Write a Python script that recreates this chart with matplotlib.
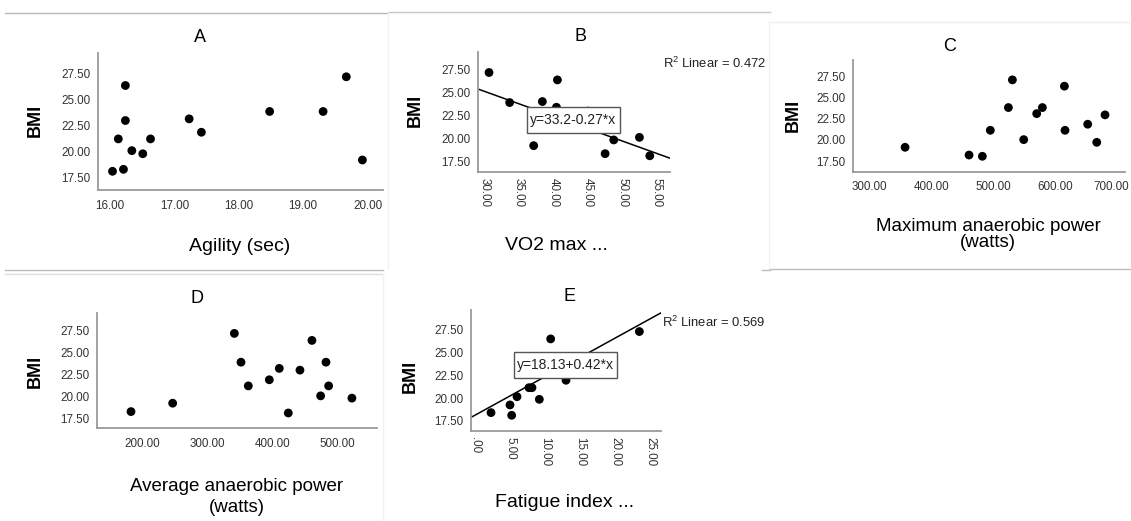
import numpy as np
import matplotlib
matplotlib.use("Agg")
import matplotlib.pyplot as plt
from matplotlib.patches import Rectangle
from matplotlib.lines import Line2D
from matplotlib.transforms import ScaledTranslation

plt.rcParams['font.family'] = ['Liberation Sans', 'DejaVu Sans']
plt.rcParams['mathtext.fontset'] = 'custom'
plt.rcParams['mathtext.rm'] = 'Liberation Sans'

# ---------------- data ----------------
bmi_ticks = [17.5, 20.0, 22.5, 25.0, 27.5]
bmi_labels = ["17.50", "20.00", "22.50", "25.00", "27.50"]

agility = [16.04, 16.24, 16.24, 16.13, 16.34, 16.21, 16.51, 16.63, 17.23, 17.42, 18.48, 19.31, 19.67, 19.92]
bmi_a = [18.11, 26.37, 23.00, 21.23, 20.10, 18.30, 19.80, 21.23, 23.16, 21.87, 23.87, 23.87, 27.21, 19.20]
agility_ticks = [16, 17, 18, 19, 20]
agility_labels = ["16.00", "17.00", "18.00", "19.00", "20.00"]

vo2 = [30.68, 33.67, 37.15, 38.41, 40.59, 40.45, 47.50, 48.75, 52.47, 53.97, 42.5, 45.5, 44.0, 45.0]
bmi_b = [27.14, 23.88, 19.20, 23.99, 26.34, 23.37, 18.33, 19.82, 20.10, 18.10, 21.23, 21.23, 21.87, 22.95]
vo2_ticks = [30, 35, 40, 45, 50, 55]
vo2_labels = ["30.00", "35.00", "40.00", "45.00", "50.00", "55.00"]
vo2_fit = (33.2, -0.27)

max_power = [357.7, 461.2, 482.7, 495.6, 524.8, 531.3, 549.6, 570.6, 579.8, 615.4, 616.4, 653.1, 667.7, 681.1]
bmi_c = [19.13, 18.21, 18.06, 21.15, 23.85, 27.14, 20.04, 23.13, 23.85, 26.39, 21.15, 21.87, 19.72, 22.98]
max_ticks = [300, 400, 500, 600, 700]
max_labels = ["300.00", "400.00", "500.00", "600.00", "700.00"]

avg_power = [183.6, 247.5, 342.1, 352.3, 363.5, 395.7, 411.0, 424.8, 442.7, 461.1, 474.4, 482.6, 486.7, 522.4]
bmi_d = [18.26, 19.22, 27.20, 23.91, 21.20, 21.90, 23.20, 18.10, 23.00, 26.40, 20.06, 23.91, 21.20, 19.80]
avg_ticks = [200, 300, 400, 500]
avg_labels = ["200.00", "300.00", "400.00", "500.00"]

fatigue = [2.29, 5.00, 5.24, 6.00, 7.71, 8.14, 9.19, 10.81, 13.00, 23.48, 11.5, 12.5, 14.5, 16.5]
bmi_e = [18.41, 19.25, 18.12, 20.15, 21.13, 21.13, 19.86, 26.45, 21.94, 27.25, 23.0, 23.2, 23.9, 23.9]
fat_ticks = [0, 5, 10, 15, 20, 25]
fat_labels = [".00", "5.00", "10.00", "15.00", "20.00", "25.00"]
fat_fit = (18.13, 0.42)

# ---------------- layout ----------------
W, H = 1131, 521
fig = plt.figure(figsize=(W / 100, H / 100), dpi=100)


def rect(l, t, r, b):
    return [l / W, 1 - b / H, (r - l) / W, (b - t) / H]


def fx(x):
    return x / W


def fy(y):
    return 1 - y / H


TICK_COLOR = '#333333'
SPINE_COLOR = '#9a9a9a'


def make_axes(r, x, y, xlim, ylim, xticks, xlabels, rot=False):
    ax = fig.add_axes(rect(*r))
    ax.scatter(x, y, s=40, color='black', edgecolors='none', zorder=3)
    ax.set_xlim(*xlim)
    ax.set_ylim(*ylim)
    for s in ['top', 'right']:
        ax.spines[s].set_visible(False)
    for s in ['left', 'bottom']:
        ax.spines[s].set_color(SPINE_COLOR)
        ax.spines[s].set_linewidth(1.3)
    ax.set_yticks(bmi_ticks)
    ax.set_yticklabels(bmi_labels, fontsize=8.4, color=TICK_COLOR)
    ax.set_xticks(xticks)
    if rot:
        ax.set_xticklabels(xlabels, fontsize=8.4, color=TICK_COLOR, rotation=270)
        ax.tick_params(axis='x', length=0, pad=4.5)
    else:
        ax.set_xticklabels(xlabels, fontsize=8.4, color=TICK_COLOR)
        ax.tick_params(axis='x', length=0, pad=7)
    ax.tick_params(axis='y', length=0, pad=5.5)
    ax.set_facecolor('none')
    return ax


# Panel A
axA = make_axes((97.7, 53, 383, 190), agility, bmi_a, (15.81, 20.24), (16.31, 29.5),
                agility_ticks, agility_labels)
# Panel B
axB = make_axes((477.7, 51.7, 670, 172), vo2, bmi_b, (29.04, 56.9), (16.34, 29.4),
                vo2_ticks, vo2_labels, rot=True)
xl = np.array(axB.get_xlim())
axB.plot(xl, vo2_fit[0] + vo2_fit[1] * xl, color='black', lw=1.1, zorder=2)
# Panel C
axC = make_axes((853.3, 60, 1125, 171.7), max_power, bmi_c, (274, 713.4), (16.23, 29.5),
                max_ticks, max_labels)
last = axC.get_xticklabels()[-1]
last.set_transform(last.get_transform() + ScaledTranslation(-4 / 72, 0, fig.dpi_scale_trans))
# Panel D
axD = make_axes((96.7, 313.3, 376.7, 428.3), avg_power, bmi_d, (131, 560.4), (16.35, 29.5),
                avg_ticks, avg_labels)
# Panel E
axE = make_axes((471, 310, 661, 430.7), fatigue, bmi_e, (-0.57, 26.57), (16.44, 29.6),
                fat_ticks, fat_labels, rot=True)
xl = np.array(axE.get_xlim())
axE.plot(xl, fat_fit[0] + fat_fit[1] * xl, color='black', lw=1.1, zorder=2)

# ---------------- titles & labels ----------------
for txt, x, y in [("A", 200, 38), ("B", 580, 36.7), ("C", 950, 46.7), ("D", 196.7, 298.3), ("E", 569.3, 296.7)]:
    fig.text(fx(x), fy(y), txt, fontsize=13, ha='center', va='center')

for x, y in [(35, 120.7), (415, 110), (793.3, 115), (35, 371.7), (410, 376.7)]:
    fig.text(fx(x), fy(y), "BMI", fontsize=13, fontweight='bold', rotation=90,
             ha='center', va='center')

fig.text(fx(240), fy(246.7), "Agility (sec)", fontsize=14, ha='center', va='center')
fig.text(fx(556.7), fy(246), "VO2 max ...", fontsize=14, ha='center', va='center')
fig.text(fx(988.3), fy(234.5), "Maximum anaerobic power\n(watts)", fontsize=13.5,
         ha='center', va='center', linespacing=0.95)
fig.text(fx(236.7), fy(497), "Average anaerobic power\n(watts)", fontsize=13.5,
         ha='center', va='center', linespacing=1.3)
fig.text(fx(565), fy(502.3), "Fatigue index ...", fontsize=14, ha='center', va='center')

# R^2 annotations
fig.text(fx(663), fy(63.3), r"R$^\mathregular{2}$ Linear = 0.472", fontsize=9.4,
         ha='left', va='center', color='#222222')
fig.text(fx(662), fy(322.3), r"R$^\mathregular{2}$ Linear = 0.569", fontsize=9.4,
         ha='left', va='center', color='#222222')

# equation boxes
for (l, t, r, b), eq in [((526.7, 106.7, 620, 133.3), "y=33.2-0.27*x"),
                         ((514.3, 352.3, 616.7, 378.3), "y=18.13+0.42*x")]:
    fig.patches.append(Rectangle((fx(l), fy(b)), (r - l) / W, (b - t) / H,
                                 transform=fig.transFigure, facecolor='white',
                                 edgecolor='#555555', lw=1.0, zorder=5))
    fig.text(fx((l + r) / 2), fy((t + b) / 2), eq, fontsize=10, ha='center', va='center',
             color='#222222', zorder=6)

# faint panel separators
seps = [((5, 388), (13, 13), '#b8b8b8'),
        ((388, 770), (11.7, 11.7), '#c8c8c8'),
        ((770, 1131), (22, 22), '#eeeeee'),
        ((770, 1131), (268.5, 268.5), '#bcbcbc'),
        ((5, 383), (270, 270), '#bcbcbc'),
        ((5, 383), (274.3, 274.3), '#dddddd'),
        ((762, 770), (270, 270), '#bcbcbc'),
        ((388, 388), (12, 268), '#f2f2f2'),
        ((769, 769), (22, 268), '#f2f2f2'),
        ((383, 383), (274, 521), '#f2f2f2')]
for xs, ys, c in seps:
    fig.lines.append(Line2D([fx(xs[0]), fx(xs[1])], [fy(ys[0]), fy(ys[1])],
                            transform=fig.transFigure, color=c, lw=1.0))

fig.savefig("out.png", dpi=100)
